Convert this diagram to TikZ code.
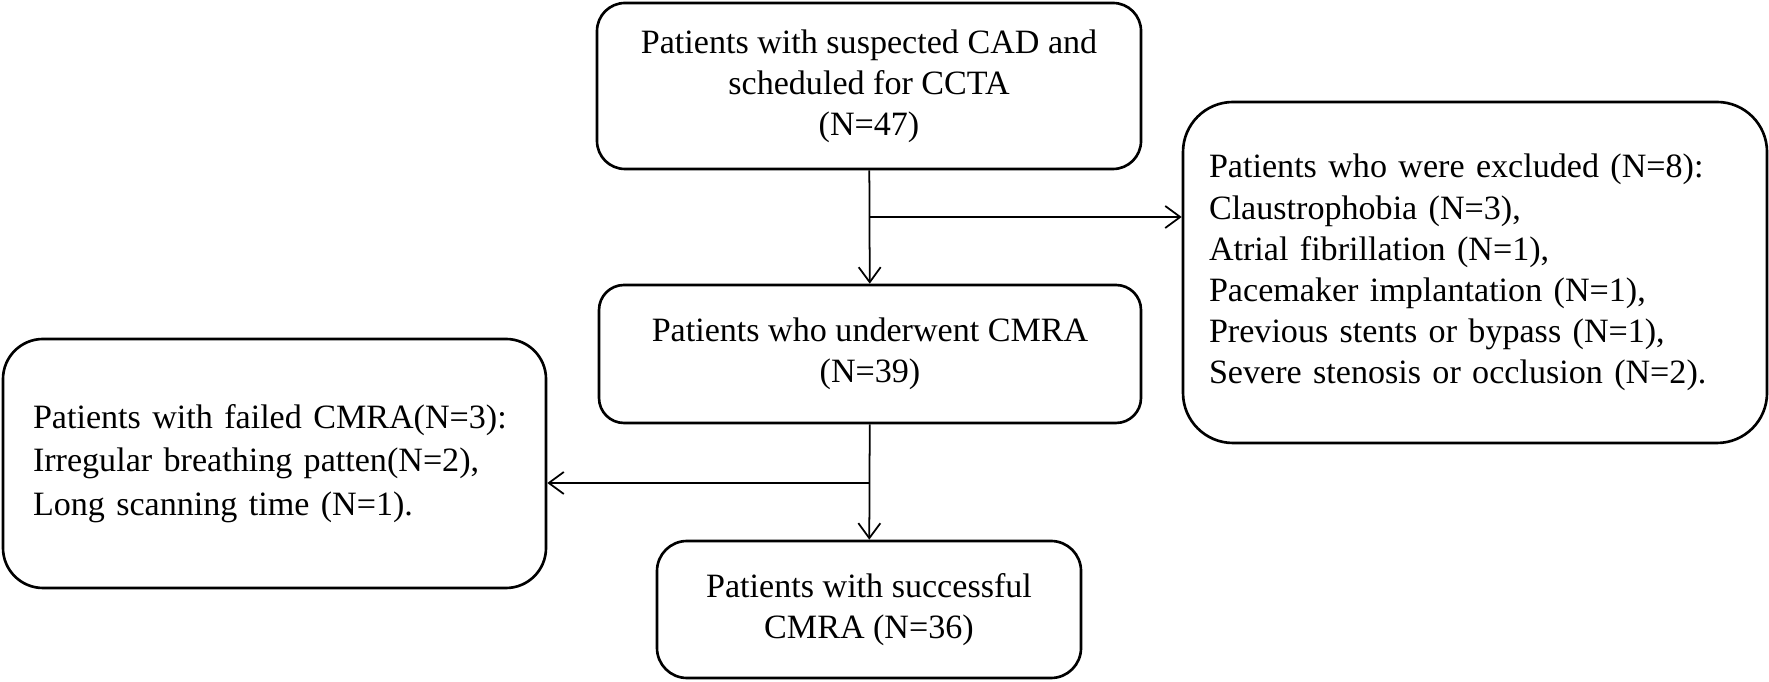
\documentclass[tikz,border=0pt]{standalone}
\usepackage{fontspec}
\setmainfont{Liberation Serif}
\usetikzlibrary{arrows.meta}
\tikzset{
  box/.style={draw,line width=0.75pt,font=\fontsize{9.7pt}{11.7pt}\selectfont,
    inner sep=0pt},
  link/.style={line width=0.5pt}
}
\begin{document}
\begin{tikzpicture}[x=0.1mm,y=-0.1mm,>={Straight Barb[length=1.5mm,width=2.2mm]}]
  \useasboundingbox (0,0) rectangle (1769,682);
  % main column
  \node[box,rounded corners=2.8mm,minimum width=54.4mm,minimum height=16.6mm,align=center]
      (suspect) at (869,86) {Patients with suspected CAD and\\scheduled for CCTA\\(N=47)};
  \node[box,rounded corners=2.5mm,minimum width=54.2mm,minimum height=13.8mm,align=center]
      (underwent) at (870,354) {Patients who underwent CMRA\\(N=39)};
  \node[box,rounded corners=3mm,minimum width=42.4mm,minimum height=13.7mm,align=center]
      (success) at (869,609.5) {Patients with successful\\CMRA (N=36)};
  % side boxes
  \node[box,rounded corners=5mm,minimum width=58.4mm,minimum height=34.1mm,
      text width=53.2mm,align=left] (excluded) at (1475,272.5)
      {Patients who were excluded (N=8):\\Claustrophobia (N=3),\\Atrial fibrillation (N=1),\\
       Pacemaker implantation (N=1),\\Previous stents or bypass (N=1),\\Severe stenosis or occlusion (N=2).};
  \node[box,rounded corners=4mm,minimum width=54.3mm,minimum height=24.9mm,
      text width=48.3mm,align=left,font=\fontsize{9.7pt}{12.4pt}\selectfont] (failed) at (274.5,463.5)
      {Patients with failed CMRA(N=3):\\Irregular breathing patten(N=2),\\Long scanning time (N=1).};
  % arrows
  \coordinate (split1) at (869,217);
  \coordinate (split2) at (869,483);
  \draw[link,->] (suspect) -- (underwent);
  \draw[link,->] (split1) -- (split1 -| excluded.west);
  \draw[link,->] (underwent) -- (success);
  \draw[link,->] (split2) -- (split2 -| failed.east);
\end{tikzpicture}
\end{document}
